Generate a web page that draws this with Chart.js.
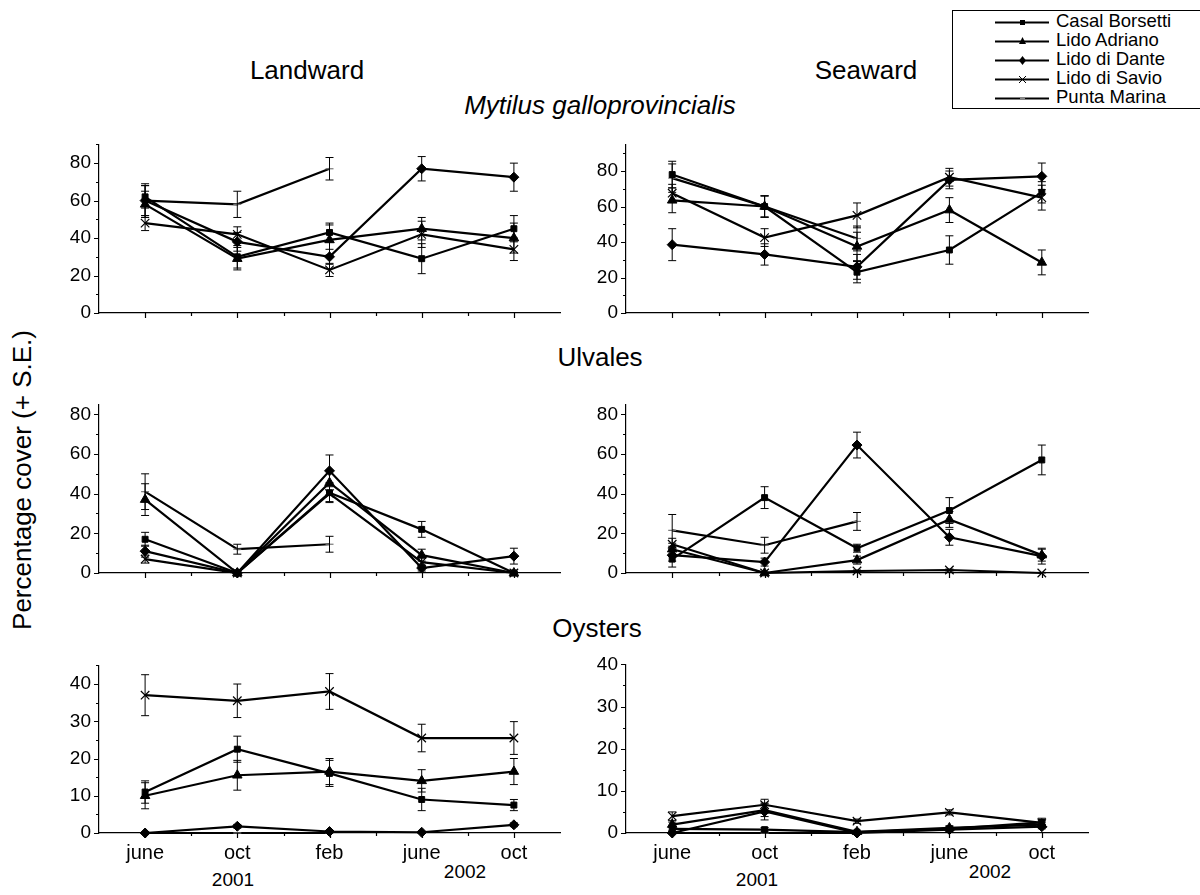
<!DOCTYPE html>
<html>
<head>
<meta charset="utf-8">
<script src="https://cdn.jsdelivr.net/npm/chart.js@4.4.1/dist/chart.umd.min.js"></script>
<style>
  body { margin: 0; background: #fff; }
  #page { position: relative; width: 1200px; height: 895px; overflow: hidden; font-family: 'Liberation Sans', Arial, sans-serif; color: #000; }
  .t { position: absolute; transform: translate(-50%, -50%); white-space: nowrap; font-size: 26px; }
  .yr { position: absolute; transform: translate(-50%, -50%); font-size: 19px; }
  .panel { position: absolute; }
  #legend { position: absolute; left: 952px; top: 10px; width: 260px; height: 97px; border: 1.3px solid #000; background: #fff; }
  #legend div { position: absolute; left: 40px; height: 18px; font-size: 18.5px; line-height: 18px; white-space: nowrap; }
  #legend svg { vertical-align: middle; margin-right: 5px; }
</style>
</head>
<body>
<div id="page">
  <div class="t" style="left:307px;top:70px">Landward</div>
  <div class="t" style="left:866px;top:70px">Seaward</div>
  <div class="t" style="left:600px;top:105px;font-style:italic">Mytilus galloprovincialis</div>
  <div class="t" style="left:600px;top:357px">Ulvales</div>
  <div class="t" style="left:597px;top:628px">Oysters</div>
  <div class="t" style="left:22px;top:480px;transform:translate(-50%,-50%) rotate(-90deg)">Percentage cover (+ S.E.)</div>
  <div class="yr" style="left:233px;top:880px">2001</div>
  <div class="yr" style="left:465px;top:872px">2002</div>
  <div class="yr" style="left:757px;top:880px">2001</div>
  <div class="yr" style="left:990px;top:872px">2002</div>
  <div id="legend"></div>
</div>
<script>
// sampling dates
const months = ['june', 'oct', 'feb', 'june', 'oct'];
const sites = ['Casal Borsetti', 'Lido Adriano', 'Lido di Dante', 'Lido di Savio', 'Punta Marina'];

// rows follow the order of sites, columns follow months (null = not sampled)
const mytilusLand = [
  [62, 30, 43, 29, 45],
  [58, 29, 39, 45, 40],
  [60, 38, 30, 77, 72.5],
  [48, 42, 23, 42, 34],
  [60, 58, 77, null, null]
];
const mytilusLandSE = [
  [6, 6, 5, 8, 7],
  [7, 6, 8, 6, 8],
  [8, 5, 4, 6.5, 7.5],
  [4, 4, 3.5, 7, 6],
  [9, 7, 6, null, null]
];
const mytilusSea = [
  [78, 60, 23, 35.5, 68],
  [63.5, 60, 37.5, 58, 28.5],
  [38.5, 33, 26, 75, 77],
  [67.5, 42.5, 55, 76.5, 65],
  [76, 60, 42, null, null]
];
const mytilusSeaSE = [
  [7.5, 6, 6, 8, 6],
  [7, 6, 8, 7, 7],
  [9, 6, 7, 5, 7.5],
  [5, 5, 7, 5, 7],
  [8, 6, 7, null, null]
];
const ulvalesLand = [
  [17, 0, 40.5, 22, 0],
  [37, 0, 45.5, 9, 0],
  [11, 0, 51.5, 2.5, 8.5],
  [7, 0, 40, 5.5, 0],
  [41, 12, 14.5, null, null]
];
const ulvalesLandSE = [
  [3.5, 0.5, 5, 4, 0.5],
  [8, 0.5, 6, 3, 0.5],
  [3, 0.5, 8, 1.5, 4],
  [2, 0.5, 4, 2, 0.5],
  [9, 2.5, 4, null, null]
];
const ulvalesSea = [
  [7, 38, 12.5, 31.5, 57],
  [12, 0, 6.5, 27, 9],
  [9, 5.5, 64.5, 18, 8.5],
  [14.5, 0, 1, 1.5, 0],
  [21.5, 14, 26, null, null]
];
const ulvalesSeaSE = [
  [4, 5.5, 2, 6.5, 7.5],
  [3, 0.5, 2, 4, 3],
  [3, 2, 6.5, 4, 4],
  [3, 0.3, 0.5, 0.5, 0.3],
  [8, 4, 4.5, null, null]
];
const oystersLand = [
  [11, 22.5, 16, 9, 7.5],
  [10, 15.5, 16.5, 14, 16.5],
  [0, 1.8, 0.4, 0.2, 2.2],
  [37, 35.5, 38, 25.5, 25.5],
  [0, 0, 0, null, null]
];
const oystersLandSE = [
  [3, 3.5, 3.5, 3, 1.5],
  [3.5, 4, 3.5, 3, 3.5],
  [0.2, 0.5, 0.3, 0.2, 0.5],
  [5.5, 4.5, 4.8, 3.7, 4.4],
  [0, 0, 0, null, null]
];
const oystersSea = [
  [1, 0.8, 0.2, 1, 2.5],
  [2, 5.4, 0.3, 1.2, 2],
  [0, 5.1, 0, 0.8, 1.5],
  [4, 6.7, 2.8, 4.9, 2.4],
  [0, 0, 0, null, null]
];
const oystersSeaSE = [
  [0.5, 0.5, 0.2, 0.5, 1],
  [0.6, 1.5, 0.2, 0.5, 0.6],
  [0.2, 2, 0.2, 0.4, 0.5],
  [1, 1.3, 0.5, 0.6, 0.6],
  [0, 0, 0, null, null]
];

// marker look per site
const markers = [
  { style: 'rect', r: 4.2, fill: '#000', bw: 1, col: '#000' },
  { style: 'triangle', r: 5.5, fill: '#000', bw: 1, col: '#000' },
  { style: 'rectRot', r: 5, fill: '#000', bw: 1, col: '#000' },
  { style: 'crossRot', r: 6, fill: '#fff', bw: 1.2, col: '#000' },
  { style: 'line', r: 4, fill: '#777', bw: 1.2, col: '#777' }
];

// panel placement (plot area in page pixels) and y range
const panels = [
  { data: mytilusLand, se: mytilusLandSE, l: 99, t: 144, r: 560, b: 313, max: 90, major: 20, minor: 10, xl: false },
  { data: mytilusSea, se: mytilusSeaSE, l: 626, t: 144, r: 1088, b: 313, max: 95, major: 20, minor: 10, xl: false },
  { data: ulvalesLand, se: ulvalesLandSE, l: 99, t: 404, r: 560, b: 573, max: 85, major: 20, minor: 10, xl: false },
  { data: ulvalesSea, se: ulvalesSeaSE, l: 626, t: 404, r: 1088, b: 573, max: 85, major: 20, minor: 10, xl: false },
  { data: oystersLand, se: oystersLandSE, l: 99, t: 665, r: 560, b: 833, max: 45, major: 10, minor: 5, xl: true },
  { data: oystersSea, se: oystersSeaSE, l: 626, t: 664, r: 1088, b: 833, max: 40, major: 10, minor: 5, xl: true }
];

const PAD_L = 50, PAD_T = 14, PAD_R = 16, X_H = 36;

Chart.defaults.font.family = "'Liberation Sans', Arial, sans-serif";
Chart.defaults.color = '#000';

// error bars drawn at each point through the scales
const errorBars = {
  id: 'errorBars',
  afterDatasetsDraw(chart) {
    const ctx = chart.ctx, xs = chart.scales.x, ys = chart.scales.y;
    ctx.save();
    ctx.strokeStyle = '#000';
    ctx.lineWidth = 1;
    chart.data.datasets.forEach(ds => {
      ds.data.forEach((v, i) => {
        const e = ds.se[i];
        if (v == null || !e) return;
        const x = xs.getPixelForValue(i);
        const y1 = ys.getPixelForValue(v + e), y2 = ys.getPixelForValue(Math.max(0, v - e));
        ctx.beginPath();
        ctx.moveTo(x, y1); ctx.lineTo(x, y2);
        ctx.moveTo(x - 4, y1); ctx.lineTo(x + 4, y1);
        ctx.moveTo(x - 4, y2); ctx.lineTo(x + 4, y2);
        ctx.stroke();
      });
    });
    ctx.restore();
  }
};

// major / minor tick marks like the original plot
const tickMarks = {
  id: 'tickMarks',
  afterDraw(chart, args, opts) {
    const ctx = chart.ctx, xs = chart.scales.x, ys = chart.scales.y;
    const a = chart.chartArea;
    ctx.save();
    ctx.strokeStyle = '#000';
    ctx.lineWidth = 1.2;
    ctx.beginPath();
    for (let v = 0; v <= opts.max + 0.01; v += opts.minor) {
      const y = Math.round(ys.getPixelForValue(v)) + 0.5;
      const len = (Math.abs(v % opts.major) < 0.01) ? 5 : 3;
      ctx.moveTo(a.left - len, y); ctx.lineTo(a.left, y);
    }
    for (let i = 0; i < months.length; i++) {
      const x = Math.round(xs.getPixelForValue(i)) + 0.5;
      ctx.moveTo(x, a.bottom); ctx.lineTo(x, a.bottom + 5);
      if (i < months.length - 1) {
        const xm = Math.round((x + xs.getPixelForValue(i + 1)) / 2) + 0.5;
        ctx.moveTo(xm, a.bottom); ctx.lineTo(xm, a.bottom + 3);
      }
    }
    ctx.stroke();
    ctx.restore();
  }
};

const page = document.getElementById('page');

panels.forEach(p => {
  const w = p.r - p.l + PAD_L + PAD_R;
  const h = p.b - p.t + PAD_T + X_H;
  const cv = document.createElement('canvas');
  cv.className = 'panel';
  cv.width = w; cv.height = h;
  cv.style.left = (p.l - PAD_L) + 'px';
  cv.style.top = (p.t - PAD_T) + 'px';
  cv.style.width = w + 'px';
  cv.style.height = h + 'px';
  page.appendChild(cv);

  const datasets = sites.map((s, k) => ({
    label: s,
    data: p.data[k],
    se: p.se[k],
    borderColor: '#000',
    borderWidth: 2.2,
    pointStyle: markers[k].style,
    pointRadius: markers[k].r,
    pointBackgroundColor: markers[k].fill,
    pointBorderColor: markers[k].col,
    pointBorderWidth: markers[k].bw,
    tension: 0,
    spanGaps: false,
    clip: false
  }));

  // labelled ticks at every major step, up to the top of the axis
  const yTicks = [];
  for (let v = 0; v <= p.max; v += p.major) yTicks.push({ value: v });

  new Chart(cv, {
    type: 'line',
    data: { labels: months, datasets },
    options: {
      responsive: false,
      animation: false,
      devicePixelRatio: 1,
      layout: { padding: { top: PAD_T, right: PAD_R, left: 0, bottom: 0 } },
      plugins: {
        legend: { display: false },
        tooltip: { enabled: false },
        tickMarks: { max: p.max, major: p.major, minor: p.minor }
      },
      scales: {
        x: {
          type: 'category',
          offset: true,
          afterFit: s => { s.height = X_H; },
          grid: { display: true, drawOnChartArea: false, drawTicks: true, tickLength: 5, color: 'rgba(0,0,0,0)' },
          border: { display: true, color: '#000', width: 1.2 },
          ticks: { display: p.xl, maxRotation: 0, autoSkip: false, padding: 3, font: { size: 20 } }
        },
        y: {
          min: 0,
          max: p.max,
          afterFit: s => { s.width = PAD_L; },
          afterBuildTicks: s => { s.ticks = yTicks.map(t => ({ value: t.value })); },
          grid: { display: true, drawOnChartArea: false, drawTicks: true, tickLength: 5, color: 'rgba(0,0,0,0)' },
          border: { display: true, color: '#000', width: 1.2 },
          ticks: {
            autoSkip: false,
            padding: 3,
            font: { size: 19 },
            callback: v => String(v)
          }
        }
      }
    },
    plugins: [errorBars, tickMarks]
  });
});

// legend box
const legend = document.getElementById('legend');
const svgMarker = [
  '<rect x="27" y="6" width="5" height="5" fill="#000"/>',
  '<polygon points="29.5,4 33,11 26,11" fill="#000"/>',
  '<polygon points="29.5,4 33,8.5 29.5,13 26,8.5" fill="#000"/>',
  '<path d="M26 5 L33 12 M33 5 L26 12" stroke="#000" stroke-width="1"/>',
  '<path d="M27 8.5 L32 8.5" stroke="#888" stroke-width="1.5"/>'
];
sites.forEach((s, k) => {
  const row = document.createElement('div');
  row.style.top = (1 + k * 19) + 'px';
  row.innerHTML = '<svg width="58" height="17"><path d="M2 8.5 L56 8.5" stroke="#000" stroke-width="2"/>' +
    svgMarker[k] + '</svg>' + s;
  legend.appendChild(row);
});
</script>
</body>
</html>
